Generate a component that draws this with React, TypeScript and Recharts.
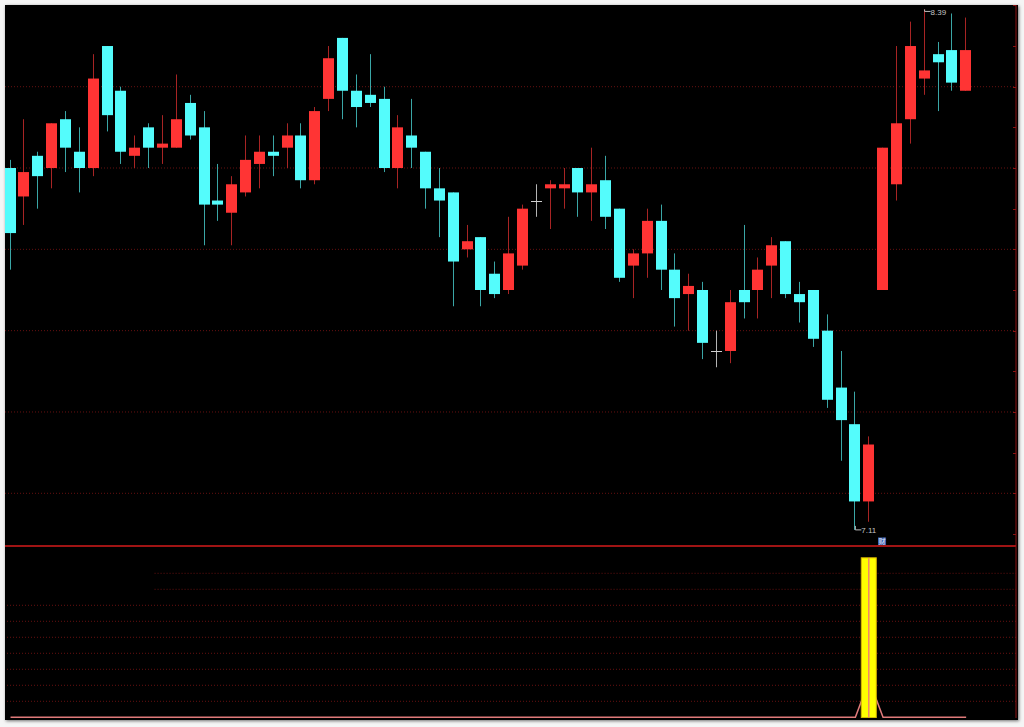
import { ComposedChart, Bar, Line, XAxis, YAxis, CartesianGrid, ReferenceLine, ReferenceDot } from 'recharts'

// daily OHLC (70 sessions)
const opens = [
  8.0, 7.93, 8.03, 8.0, 8.12, 8.04, 8.0, 8.3, 8.19, 8.03,
  8.1, 8.05, 8.05, 8.16, 8.1, 7.92, 7.89, 7.94, 8.01, 8.04,
  8.05, 8.08, 7.97, 8.17, 8.32, 8.19, 8.18, 8.17, 8.0, 8.08,
  8.04, 7.95, 7.94, 7.8, 7.83, 7.74, 7.7, 7.76, 7.92, 7.95,
  7.95, 8.0, 7.94, 7.97, 7.9, 7.76, 7.79, 7.87, 7.75, 7.69,
  7.7, 7.55, 7.55, 7.7, 7.7, 7.76, 7.82, 7.69, 7.7, 7.6,
  7.46, 7.37, 7.18, 7.7, 7.96, 8.12, 8.22, 8.28, 8.29, 8.19,
]
const highs = [
  8.02, 8.12, 8.04, 8.11, 8.14, 8.1, 8.28, 8.3, 8.2, 8.08,
  8.11, 8.13, 8.23, 8.18, 8.14, 8.01, 7.98, 8.08, 8.08, 8.08,
  8.11, 8.11, 8.15, 8.3, 8.32, 8.23, 8.28, 8.2, 8.13, 8.17,
  8.04, 8.0, 7.94, 7.86, 7.83, 7.77, 7.88, 7.91, 7.96, 7.97,
  8.0, 8.0, 8.05, 8.03, 7.9, 7.8, 7.9, 7.91, 7.79, 7.74,
  7.72, 7.6, 7.7, 7.86, 7.78, 7.83, 7.82, 7.72, 7.7, 7.64,
  7.55, 7.45, 7.34, 8.05, 8.3, 8.36, 8.39, 8.31, 8.38, 8.37,
]
const lows = [
  7.75, 7.86, 7.9, 7.95, 7.99, 7.94, 7.98, 8.09, 8.01, 8.0,
  8.0, 8.01, 8.05, 8.07, 7.81, 7.87, 7.81, 7.93, 7.95, 7.98,
  8.0, 7.95, 7.96, 8.14, 8.12, 8.1, 8.15, 7.99, 7.95, 8.0,
  7.9, 7.83, 7.66, 7.78, 7.66, 7.68, 7.69, 7.75, 7.88, 7.85,
  7.9, 7.88, 7.87, 7.85, 7.72, 7.68, 7.73, 7.7, 7.61, 7.6,
  7.53, 7.51, 7.52, 7.63, 7.63, 7.68, 7.68, 7.62, 7.56, 7.41,
  7.28, 7.11, 7.13, 7.7, 7.92, 8.06, 8.18, 8.14, 8.19, 8.19,
]
const closes = [
  7.84, 7.99, 7.98, 8.11, 8.05, 8.0, 8.22, 8.13, 8.04, 8.05,
  8.05, 8.06, 8.12, 8.08, 7.91, 7.91, 7.96, 8.02, 8.04, 8.03,
  8.08, 7.97, 8.14, 8.27, 8.19, 8.15, 8.16, 8.0, 8.1, 8.05,
  7.95, 7.92, 7.77, 7.82, 7.7, 7.69, 7.79, 7.9, 7.92, 7.96,
  7.96, 7.94, 7.96, 7.88, 7.73, 7.79, 7.87, 7.75, 7.68, 7.71,
  7.57, 7.55, 7.67, 7.67, 7.75, 7.81, 7.69, 7.67, 7.58, 7.43,
  7.38, 7.18, 7.32, 8.05, 8.11, 8.3, 8.24, 8.26, 8.21, 8.29,
]

// lower indicator: signal stick and its line
const signal = [
  0, 0, 0, 0, 0, 0, 0, 0, 0, 0,
  0, 0, 0, 0, 0, 0, 0, 0, 0, 0,
  0, 0, 0, 0, 0, 0, 0, 0, 0, 0,
  0, 0, 0, 0, 0, 0, 0, 0, 0, 0,
  0, 0, 0, 0, 0, 0, 0, 0, 0, 0,
  0, 0, 0, 0, 0, 0, 0, 0, 0, 0,
  0, 0, 1, 0, 0, 0, 0, 0, 0, 0,
]
const signalLine = [
  0, 0, 0, 0, 0, 0, 0, 0, 0, 0,
  0, 0, 0, 0, 0, 0, 0, 0, 0, 0,
  0, 0, 0, 0, 0, 0, 0, 0, 0, 0,
  0, 0, 0, 0, 0, 0, 0, 0, 0, 0,
  0, 0, 0, 0, 0, 0, 0, 0, 0, 0,
  0, 0, 0, 0, 0, 0, 0, 0, 0, 0,
  0, 0, 0.23, 0, 0, 0, 0, 0, 0, 0,
]

const gridPrices = [7.2, 7.4, 7.6, 7.8, 8.0, 8.2]
const axisTicks = [7.1, 7.2, 7.3, 7.4, 7.5, 7.6, 7.7, 7.8, 7.9, 8.0, 8.1, 8.2, 8.3, 8.4]
const lowerGrid = [0.1, 0.2, 0.3, 0.4, 0.5, 0.6, 0.7, 0.8, 0.9]

const highIdx = 66
const lowIdx = 61
const noteIdx = 63

const X_DOMAIN: [number, number] = [-0.4, 72.6]
const LOWER_DOMAIN: [number, number] = [-0.0044, 1.0706]

const candles = opens.map((o, i) => ({
  i,
  open: o,
  high: highs[i],
  low: lows[i],
  close: closes[i],
  range: [lows[i], highs[i]],
}))
const lower = signal.map((s, i) => ({ i, signal: s, line: signalLine[i] }))

const AXIS = '#8c1212'
const GRID = '#661010'

const Candle = (props: any) => {
  const { x, y, width, height, payload } = props
  if (!payload || height == null) return null
  const { open, close, high, low } = payload
  const cx = Math.round(x + width / 2 - 0.5) + 0.5
  const ppu = height / (high - low)
  const top = y + (high - Math.max(open, close)) * ppu
  const bot = y + (high - Math.min(open, close)) * ppu
  const flat = open === close
  const up = close > open
  const body = flat ? '#cfcfcf' : up ? '#ff3434' : '#54fcfc'
  const wick = flat ? '#b4b4b4' : up ? '#a82424' : '#3aa6a6'
  const left = Math.round(x)
  const w = Math.round(width)
  return (
    <g>
      <line x1={cx} x2={cx} y1={y} y2={y + height} stroke={wick} strokeWidth={1} />
      {flat ? (
        <line x1={left} x2={left + w} y1={Math.round(top) + 0.5} y2={Math.round(top) + 0.5} stroke={body} />
      ) : (
        <rect x={left} y={top} width={w} height={Math.max(bot - top, 1)} fill={body} />
      )}
    </g>
  )
}

// yellow stick, 15px wide regardless of the band size
const Stick = (props: any) => {
  const { x, y, width, height } = props
  if (!height || height < 1) return null
  const cx = x + width / 2
  const w = 15
  return (
    <g>
      <rect x={cx - w / 2} y={y + 0.5} width={w} height={height} fill='#ffff00' stroke='#d9b400' />
      <line x1={cx} x2={cx} y1={y + 1} y2={y + height} stroke='#f28a66' strokeWidth={1.5} />
    </g>
  )
}

const RightTick = (props: any) => {
  const { x, y } = props
  const yy = Math.round(y) + 0.5
  return <line x1={x - 3} x2={x} y1={yy} y2={yy} stroke={AXIS} />
}

const HighMark = (props: any) => {
  const { cx, cy } = props
  return (
    <g>
      <path d={`M${cx},${cy} L${cx},${cy + 2} L${cx + 6},${cy + 2}`} stroke='#bdbdbd' fill='none' />
      <text x={cx + 6} y={cy + 6} fill='#c4c4c4' fontSize={8} fontFamily='Liberation Sans, Arial, sans-serif'>
        {highs[highIdx].toFixed(2)}
      </text>
    </g>
  )
}

const LowMark = (props: any) => {
  const { cx, cy } = props
  return (
    <g>
      <path d={`M${cx},${cy - 4} L${cx},${cy} L${cx + 6},${cy}`} stroke='#bdbdbd' fill='none' />
      <text x={cx + 6} y={cy + 3} fill='#c4c4c4' fontSize={8} fontFamily='Liberation Sans, Arial, sans-serif'>
        {lows[lowIdx].toFixed(2)}
      </text>
    </g>
  )
}

const NoteMark = (props: any) => {
  const { cx, cy } = props
  return (
    <g>
      <rect x={cx - 5} y={cy - 4} width={8} height={8} fill='#3d64b0' />
      <text x={cx - 1} y={cy + 3} fill='#e8eefc' fontSize={7} textAnchor='middle' fontFamily='Noto Sans CJK SC'>
        财
      </text>
    </g>
  )
}

export default function App() {
  const lowerY = (visible: boolean) => (
    <YAxis
      orientation='right'
      type='number'
      domain={LOWER_DOMAIN}
      width={2}
      tick={false}
      tickLine={false}
      axisLine={visible ? { stroke: AXIS } : false}
      allowDataOverflow
    />
  )
  return (
    <div style={{ position: 'absolute', left: 0, top: 0, width: 1024, height: 727, background: '#f5f5f5', overflow: 'hidden' }}>
      <div style={{ position: 'absolute', left: 5, top: 5, width: 1013, height: 715, background: '#000', boxShadow: '1px 1px 3px rgba(0,0,0,0.55)' }}>
        <div style={{ position: 'absolute', left: 0, top: 0 }}>
          <ComposedChart width={1013} height={541} data={candles} margin={{ top: 0, right: 0, bottom: 0, left: 0 }}>
            <CartesianGrid horizontalValues={gridPrices} vertical={false} stroke={GRID} strokeDasharray='1 2' />
            <XAxis dataKey='i' type='number' domain={X_DOMAIN} hide allowDataOverflow />
            <YAxis
              orientation='right'
              type='number'
              domain={[7.0704, 8.4009]}
              ticks={axisTicks}
              interval={0}
              width={2}
              tickLine={false}
              tickSize={0}
              tickMargin={0}
              tick={<RightTick />}
              axisLine={{ stroke: AXIS }}
              allowDataOverflow
            />
            <Bar dataKey='range' barSize={11} shape={<Candle />} isAnimationActive={false} />
            <ReferenceDot x={highIdx} y={highs[highIdx]} shape={<HighMark />} />
            <ReferenceDot x={lowIdx} y={lows[lowIdx]} shape={<LowMark />} />
            <ReferenceDot x={noteIdx} y={7.0815} shape={<NoteMark />} />
          </ComposedChart>
        </div>
        <div style={{ position: 'absolute', left: 0, top: 540, width: 1011, height: 2, background: '#a01414' }} />
        {/* lower panel: grid + line underneath */}
        <div style={{ position: 'absolute', left: 0, top: 541 }}>
          <ComposedChart width={1013} height={172} data={lower} margin={{ top: 0, right: 0, bottom: 0, left: 0 }}>
            <XAxis dataKey='i' type='number' domain={X_DOMAIN} hide allowDataOverflow />
            {lowerY(true)}
            {lowerGrid.map((v) =>
              v >= 0.8 ? (
                <ReferenceLine key={v} segment={[{ x: 10.4, y: v }, { x: X_DOMAIN[1], y: v }]} stroke={GRID} strokeDasharray='1 2' />
              ) : (
                <ReferenceLine key={v} y={v} stroke={GRID} strokeDasharray='1 2' />
              )
            )}
            <Line dataKey='line' type='linear' stroke='#e07a7a' strokeWidth={1.5} dot={false} isAnimationActive={false} />
          </ComposedChart>
        </div>
        {/* lower panel: signal stick on top */}
        <div style={{ position: 'absolute', left: 0, top: 541 }}>
          <ComposedChart width={1013} height={172} data={lower} margin={{ top: 0, right: 0, bottom: 0, left: 0 }}>
            <XAxis dataKey='i' type='number' domain={X_DOMAIN} hide allowDataOverflow />
            {lowerY(false)}
            <Bar dataKey='signal' barSize={11} shape={<Stick />} isAnimationActive={false} />
          </ComposedChart>
        </div>
      </div>
    </div>
  )
}
